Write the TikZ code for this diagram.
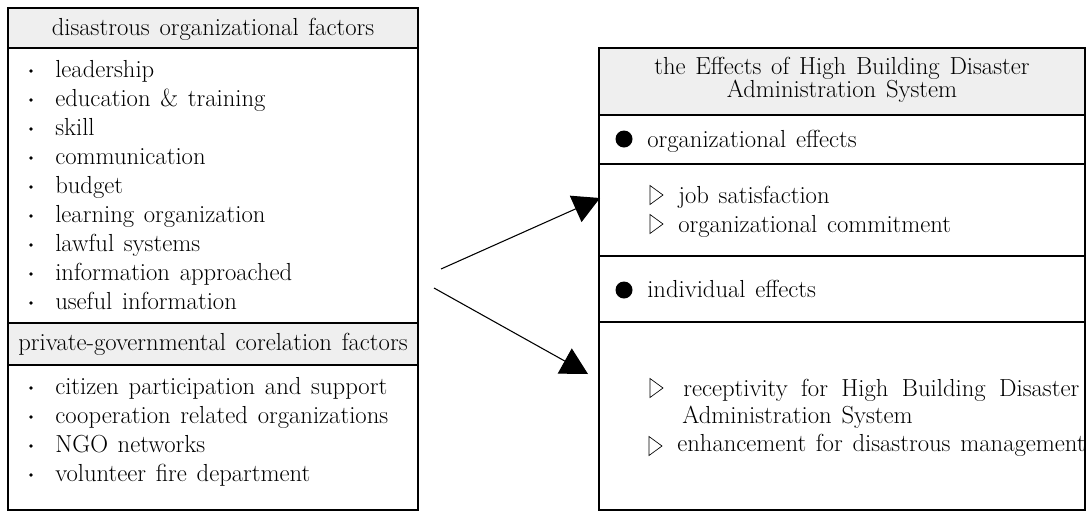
\documentclass[tikz,border=0pt]{standalone}
\usepackage{fontspec}
\usetikzlibrary{arrows.meta}

\definecolor{headgray}{RGB}{239,239,239}
\newcommand{\boxfont}{\fontsize{18.5}{22}\selectfont\spaceskip=7.3pt plus 3pt minus 1pt\relax}

\tikzset{
  txt/.style={inner sep=0pt, font=\boxfont},
  item/.style={txt, anchor=base west},
  title/.style={txt, anchor=base},
  frame/.style={draw, line width=1pt},
  band/.style={frame, fill=headgray},
  dot/.style={circle, fill, inner sep=0pt, minimum size=12.75pt},
  bullet/.style={circle, fill, inner sep=0pt, minimum size=2.7pt},
  link/.style={line width=0.8pt, -{Triangle[length=20pt, width=21.5pt]}},
  pointer/.pic={\draw[line width=0.5pt] (0,-9.5) -- (13,0) -- (0,9.5) -- cycle;}
}

\begin{document}
\begin{tikzpicture}[x=0.75pt, y=-0.75pt]
    \useasboundingbox (0,0) rectangle (1088,511);

    % Left panel, organizational factors
    \draw[frame] (8,8) rectangle (418,510);
    \draw[band] (8,8) rectangle (418,48);
    \node[title] (orghead) at (213,35) {disastrous organizational factors};
    \foreach \lbl [count=\i] in {leadership, education \& training, skill,
        communication, budget, learning organization, lawful systems,
        information approached, useful information} {
      \node[bullet] (lb\i) at (31, {77+29*(\i-1)-6}) {};
      \node[item] (l\i) at (55, {77+29*(\i-1)}) {\lbl};
    }

    % Left panel, corelation factors
    \draw[band] (8,323) rectangle (418,365);
    \node[title] (corhead) at (213,350) {private-governmental corelation factors};
    \foreach \lbl [count=\i] in {citizen participation and support,
        cooperation related organizations, NGO networks,
        volunteer fire department} {
      \node[bullet] (cb\i) at (31, {394+29*(\i-1)-6}) {};
      \node[item] (c\i) at (55, {394+29*(\i-1)}) {\lbl};
    }

    % Right panel
    \draw[frame] (599,48) rectangle (1085,510);
    \draw[band] (599,48) rectangle (1085,115);
    \node[title] (effhead1) at (842,74) {the Effects of High Building Disaster};
    \node[title] (effhead2) at (842,97) {Administration System};
    \draw[frame] (599,164) -- (1085,164);
    \draw[frame, line width=2pt] (599,256) -- (1085,256);
    \draw[frame] (599,322) -- (1085,322);

    % organizational effects
    \node[dot] (orgdot) at (624,139) {};
    \node[item] (orgfx) at (647,147) {organizational effects};
    \pic at (650,195) {pointer};
    \node[item] (j1) at (678,203) {job satisfaction};
    \pic at (650,224) {pointer};
    \node[item] (j2) at (678,232) {organizational commitment};

    % individual effects
    \node[dot] (inddot) at (624,290) {};
    \node[item] (indfx) at (647,297) {individual effects};
    \pic at (650,388) {pointer};
    \node[item] (r1) at (683,396) {\makebox[297pt][s]{receptivity for High Building Disaster}};
    \node[item] (r2) at (682,423) {Administration System};
    \pic at (649,446) {pointer};
    \node[item] (r3) at (677,451) {enhancement for disastrous management};

    % Links
    \coordinate (from1) at (441,269);
    \coordinate (to1) at (600,198);
    \coordinate (from2) at (434,288);
    \coordinate (to2) at (588,374);
    \draw[link] (from1) -- (to1);
    \draw[link] (from2) -- (to2);
\end{tikzpicture}
\end{document}
